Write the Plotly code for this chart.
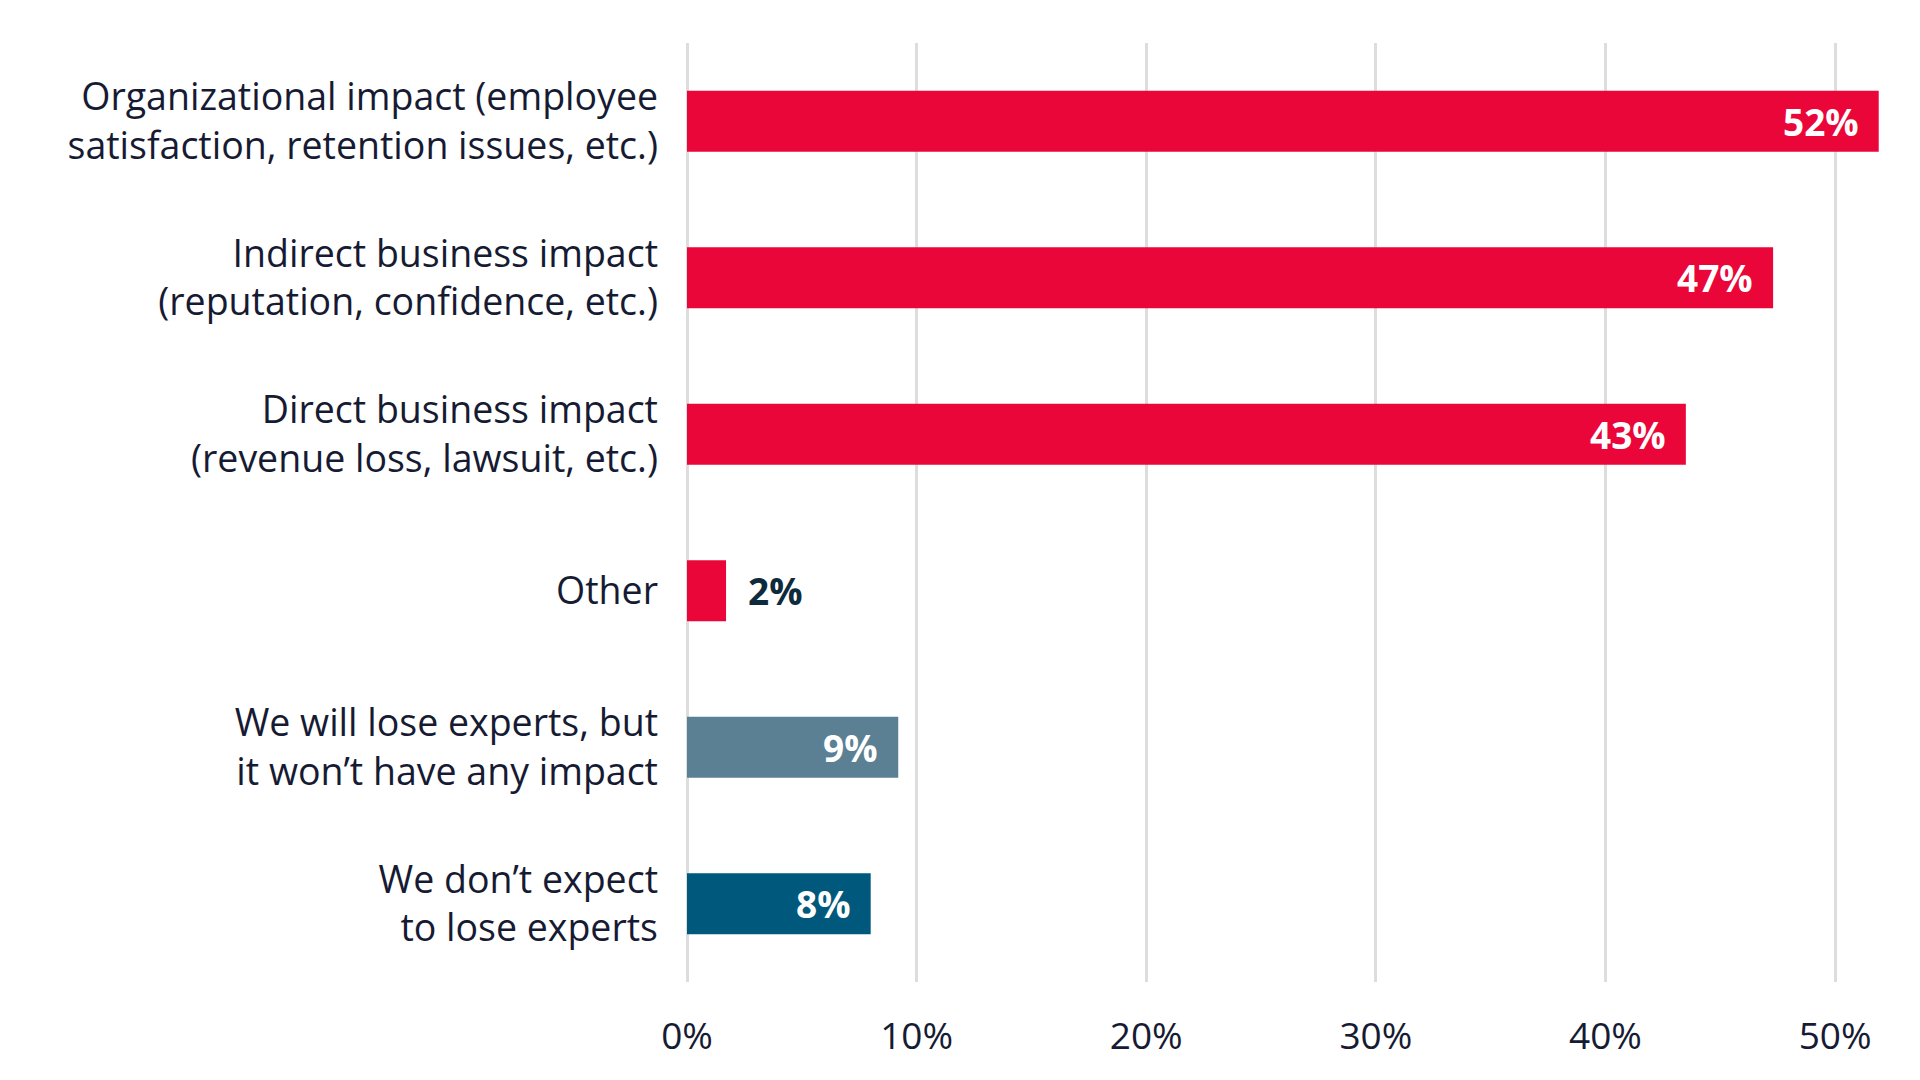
import plotly.graph_objects as go

categories = [
    "Organizational impact (employee<br>satisfaction, retention issues, etc.)",
    "Indirect business impact<br>(reputation, confidence, etc.)",
    "Direct business impact<br>(revenue loss, lawsuit, etc.)",
    "Other",
    "We will lose experts, but<br>it won’t have any impact",
    "We don’t expect<br>to lose experts",
]
values = [51.9, 47.3, 43.5, 1.7, 9.2, 8.0]
labels = ["52%", "47%", "43%", "2%", "9%", "8%"]
bar_colors = ["#EA0639", "#EA0639", "#EA0639", "#EA0639", "#5B7F93", "#00597C"]
label_inside = [True, True, True, False, True, True]
tick_vals = [0, 10, 20, 30, 40, 50]
tick_text = ["0%", "10%", "20%", "30%", "40%", "50%"]

FONT = "Open Sans"

fig = go.Figure()
fig.add_trace(go.Bar(
    y=categories,
    x=values,
    orientation="h",
    marker=dict(color=bar_colors, line=dict(width=0)),
    width=0.39,
    hoverinfo="skip",
))

for cat, v, lab, inside in zip(categories, values, labels, label_inside):
    fig.add_annotation(
        x=v, y=cat, text=f"<b>{lab}</b>", showarrow=False,
        xanchor="right" if inside else "left",
        xshift=-18 if inside else 20,
        font=dict(family=FONT, size=37, color="#FFFFFF" if inside else "#0E2B3B"),
    )

fig.update_layout(
    width=1920, height=1080,
    margin=dict(l=687, r=5, t=43, b=98),
    paper_bgcolor="white", plot_bgcolor="white",
    showlegend=False,
    font=dict(family=FONT, color="#161B33"),
    xaxis=dict(
        range=[0, 53.48], tickvals=tick_vals, ticktext=tick_text,
        showgrid=True, gridcolor="#DDDDDD", gridwidth=3,
        zeroline=True, zerolinecolor="#DDDDDD", zerolinewidth=3,
        showline=False, ticks="", ticklabelstandoff=29,
        tickfont=dict(family=FONT, size=37, color="#161B33"),
        fixedrange=True,
    ),
    yaxis=dict(
        categoryorder="array", categoryarray=categories[::-1],
        range=[-0.5, 5.5],
        showgrid=False, zeroline=False, showline=False, ticks="",
        ticklabelstandoff=28,
        tickfont=dict(family=FONT, size=37.5, color="#161B33"),
        fixedrange=True,
    ),
)

fig.write_html("out.html")
